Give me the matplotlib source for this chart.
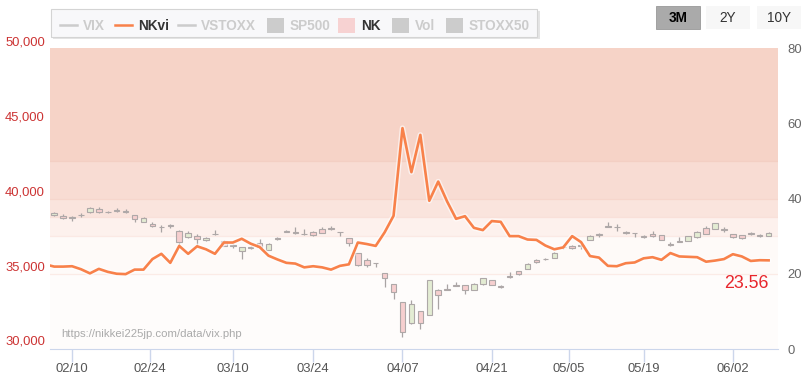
import numpy as np
import pandas as pd
import matplotlib
matplotlib.use("Agg")
import matplotlib.pyplot as plt
import matplotlib.transforms as mtransforms
import matplotlib.patheffects as pe
from matplotlib.patches import Rectangle

# 1) Data: Japanese trading days Feb 5 - Jun 6 2025
dates = [
    "2025-02-05", "2025-02-06", "2025-02-07", "2025-02-10", "2025-02-12", "2025-02-13", "2025-02-14",
    "2025-02-17", "2025-02-18", "2025-02-19", "2025-02-20", "2025-02-21", "2025-02-25", "2025-02-26",
    "2025-02-27", "2025-02-28", "2025-03-03", "2025-03-04", "2025-03-05", "2025-03-06", "2025-03-07",
    "2025-03-10", "2025-03-11", "2025-03-12", "2025-03-13", "2025-03-14", "2025-03-17", "2025-03-18",
    "2025-03-19", "2025-03-21", "2025-03-24", "2025-03-25", "2025-03-26", "2025-03-27", "2025-03-28",
    "2025-03-31", "2025-04-01", "2025-04-02", "2025-04-03", "2025-04-04", "2025-04-07", "2025-04-08",
    "2025-04-09", "2025-04-10", "2025-04-11", "2025-04-14", "2025-04-15", "2025-04-16", "2025-04-17",
    "2025-04-18", "2025-04-21", "2025-04-22", "2025-04-23", "2025-04-24", "2025-04-25", "2025-04-28",
    "2025-04-30", "2025-05-01", "2025-05-02", "2025-05-07", "2025-05-08", "2025-05-09", "2025-05-12",
    "2025-05-13", "2025-05-14", "2025-05-15", "2025-05-16", "2025-05-19", "2025-05-20", "2025-05-21",
    "2025-05-22", "2025-05-23", "2025-05-26", "2025-05-27", "2025-05-28", "2025-05-29", "2025-05-30",
    "2025-06-02", "2025-06-03", "2025-06-04", "2025-06-05", "2025-06-06",
]

nkvi = [
    22.5, 21.9, 21.9, 22.0, 21.2, 20.1, 21.3, 20.5, 20.0, 19.9, 21.1, 21.1, 23.9, 25.3,
    22.9, 27.4, 25.3, 27.3, 26.5, 25.3, 28.3, 28.3, 29.3, 28.0, 27.1, 24.8, 23.8, 22.9,
    22.7, 21.7, 22.0, 21.7, 21.1, 22.1, 22.5, 28.3, 27.9, 27.4, 31.0, 35.4, 58.7, 47.0,
    56.9, 39.4, 44.5, 39.2, 34.6, 35.3, 32.2, 31.6, 34.0, 33.8, 30.0, 30.0, 29.1, 29.0,
    27.5, 26.5, 27.0, 30.0, 28.4, 24.7, 24.3, 22.1, 22.0, 22.8, 23.0, 24.1, 24.4, 23.7,
    25.5, 24.6, 24.5, 24.4, 23.2, 23.5, 23.9, 25.2, 24.6, 23.4, 23.6, 23.56,
]

nk_open = [
    38800, 38990, 38900, 38750, 38950, 39170, 39390, 39150, 39230, 39200, 38950, 38500, 38390, 38160,
    38300, 37860, 37480, 37575, 37300, 37680, 37197, 36900, 36578, 36780, 37090, 36645, 37380, 37830,
    37760, 37690, 37841, 38020, 38080, 37830, 37396, 36399, 35960, 35740, 35070, 34319, 33165, 31708,
    32525, 32306, 33967, 33960, 34240, 34253, 33967, 34319, 34585, 34140, 34800, 35203, 35362, 35980,
    36000, 36094, 36800, 36911, 36900, 37290, 37620, 38160, 38150, 37800, 37740, 37520, 37689, 37622,
    36950, 37150, 37243, 37462, 38087, 38020, 37990, 37689, 37622, 37720, 37600, 37575,
]
nk_high = [
    38900, 39140, 39050, 38900, 39100, 39530, 39500, 39250, 39420, 39350, 38960, 38810, 38500, 38280,
    38380, 37950, 37860, 37690, 37520, 37960, 37290, 37020, 36810, 36910, 37356, 37100, 37460, 37980,
    38130, 38000, 37900, 38130, 38240, 37840, 37420, 36450, 36070, 35780, 35070, 34319, 33165, 33303,
    32550, 34639, 33990, 34360, 34470, 34280, 34420, 34740, 34600, 34300, 35130, 35210, 35720, 36000,
    36100, 36460, 36960, 36950, 36950, 37600, 37750, 38500, 38330, 37900, 37760, 37620, 37900, 37640,
    37130, 37460, 37550, 37900, 38240, 38440, 38130, 37700, 37640, 37840, 37720, 37800,
]
nk_low = [
    38600, 38900, 38700, 38550, 38850, 39120, 39100, 39100, 39180, 39080, 38500, 38480, 38130, 37840,
    38100, 36910, 37420, 36911, 37240, 37640, 36880, 36760, 36027, 36690, 36740, 36620, 37300, 37800,
    37700, 37650, 37580, 37740, 37950, 37580, 36911, 35520, 35500, 35470, 34140, 33370, 30792, 31700,
    31309, 32300, 32705, 33930, 34210, 33700, 33950, 34300, 34250, 34100, 34780, 34920, 35340, 35780,
    35950, 36080, 36690, 36700, 36690, 37270, 37460, 38130, 37900, 37690, 37500, 37400, 37500, 37290,
    36910, 37130, 37230, 37450, 37680, 38000, 37840, 37400, 37380, 37620, 37510, 37560,
]
nk_close = [
    38831, 39066, 38787, 38801, 38963, 39461, 39149, 39174, 39270, 39164, 38678, 38776, 38237, 38142,
    38256, 37155, 37785, 37331, 37418, 37705, 36887, 36930, 36798, 36819, 36790, 37053, 37396, 37845,
    37751, 37677, 37622, 37780, 38027, 37799, 37120, 35617, 35624, 35725, 34736, 33780, 31136, 33012,
    31714, 34609, 33585, 33982, 34267, 33920, 34377, 34730, 34280, 34220, 34868, 35039, 35705, 35840,
    36045, 36452, 36830, 36780, 36928, 37560, 37644, 38183, 38128, 37755, 37753, 37498, 37529, 37299,
    36985, 37160, 37531, 37795, 37722, 38432, 37965, 37470, 37446, 37747, 37554, 37741,
]

tick_dates = ["2025-02-10", "2025-02-24", "2025-03-10", "2025-03-24", "2025-04-07",
              "2025-04-21", "2025-05-05", "2025-05-19", "2025-06-02"]
tick_labels = ["02/10", "02/24", "03/10", "03/24", "04/07", "04/21", "05/05", "05/19", "06/02"]

left_ticks = [30000, 35000, 40000, 45000, 50000]
right_ticks = [0, 20, 40, 60, 80]

# VIX-style zones on the right axis
band_edges = [0, 20, 30, 35, 40, 50, 80]
band_colors = ["#fefcfb", "#fefaf8", "#fdf1ed", "#fae4dd", "#f8dcd3", "#f6d3c7"]

legend_items = [("VIX", "line", "#cccccc", False), ("NKvi", "line", "#f8814a", True),
                ("VSTOXX", "line", "#cccccc", False), ("SP500", "box", "#cccccc", False),
                ("NK", "box", "#f7d2d2", True), ("Vol", "box", "#cccccc", False),
                ("STOXX50", "box", "#cccccc", False)]

# 2) Ordinal x axis (trading-day index, index 0 = 02/10)
d = pd.to_datetime(dates).values.astype("datetime64[D]").astype(float)
x = np.arange(len(dates)) - 3
tick_x = np.interp(pd.to_datetime(tick_dates).values.astype("datetime64[D]").astype(float), d, x)

plt.rcParams["font.family"] = ["Liberation Sans", "DejaVu Sans"]
W, H = 803, 377
fig = plt.figure(figsize=(W / 100, H / 100), dpi=100)
ax = fig.add_axes([50 / W, (H - 349) / H, 728 / W, 301 / H])
ax2 = ax.twinx()

ax.set_xlim(-2.47, 79.05)
ax.set_ylim(30000, 50133)
ax2.set_ylim(0, 80)

# 3) Background zones
ytrans = mtransforms.blended_transform_factory(ax.transAxes, ax2.transData)
for lo, hi, c in zip(band_edges[:-1], band_edges[1:], band_colors):
    ax.add_patch(Rectangle((0, lo), 1, hi - lo, transform=ytrans, facecolor=c,
                           edgecolor="none", zorder=0))
for e, c in zip(band_edges[1:-1], ["#fbebe6", "#fbe9e4", "#f9e0d9", "#f6d6cc", "#f3cfc3"]):
    ax.plot([0, 1], [e, e], transform=ytrans, color=c, lw=0.9, zorder=0.5)

# 4) Candles
o, h, l, c = map(np.array, (nk_open, nk_high, nk_low, nk_close))
up = c >= o
body_lo = np.minimum(o, c)
body_h = np.maximum(np.abs(c - o), 45)
ax.vlines(x, l, h, color="#a9a4a4", lw=0.9, zorder=2)
ax.bar(x, body_h, bottom=body_lo, width=0.62,
       color=np.where(up, "#e3ecd3", "#f6cfcf"), edgecolor="#aea8a8", linewidth=0.8, zorder=3)

# 5) NKvi line
ax2.plot(x, nkvi, color="#f8814a", lw=1.9, zorder=5, solid_joinstyle="round",
         path_effects=[pe.Stroke(linewidth=4.0, foreground="white", alpha=0.6, joinstyle="round"),
                       pe.Normal()])
ax2.patch.set_visible(False)

# 6) Axes styling
for a in (ax, ax2):
    for s in a.spines.values():
        s.set_visible(False)
ax.spines["bottom"].set_visible(True)
ax.spines["bottom"].set_color("#ccd6eb")
ax.set_xticks(tick_x)
ax.set_xticklabels(tick_labels)
ax.tick_params(axis="x", length=9, color="#ccd6eb", width=1, pad=1, labelsize=9.4, labelcolor="#555555")
ax.set_yticks([])
ax2.set_yticks(right_ticks)
ax2.tick_params(axis="y", length=0, pad=7, labelsize=9.4, labelcolor="#666666")

off = mtransforms.ScaledTranslation(0, 7 / 100, fig.dpi_scale_trans)
for v in left_ticks:
    ax.text(-0.007, v, f"{v:,}", transform=ax.get_yaxis_transform() + off,
            ha="right", va="center", fontsize=9.4, color="#cc3333")

ax.text(0.016, 0.05, "https://nikkei225jp.com/data/vix.php", transform=ax.transAxes,
        fontsize=8.2, color="#aaaaaa", va="center", zorder=6)
ax2.text(x[-1], 23.56 - 6.2, f"{nkvi[-1]:.2f}", fontsize=12.8, color="#e8262c",
         ha="right", va="center", zorder=6)


# 7) Legend and range buttons (pixel coordinates)
def px(xp, yp):
    return xp / W, 1 - yp / H


def rect(x0, y0, w, hgt, **kw):
    fig.add_artist(Rectangle(px(x0, y0 + hgt), w / W, hgt / H, transform=fig.transFigure, **kw))


rect(53, 11, 487, 28, facecolor="#e4e4e4", edgecolor="none")
rect(51, 9, 486, 28, facecolor="#f8f8fa", edgecolor="#d4d4d4", lw=0.8)
legend_x = [60, 115, 178, 267, 338, 392, 446]
for (name, kind, col, on), lx in zip(legend_items, legend_x):
    if kind == "line":
        fig.add_artist(plt.Line2D([lx / W, (lx + 17) / W], [1 - 25 / H] * 2, color=col, lw=1.8,
                                  transform=fig.transFigure))
    else:
        rect(lx, 18, 17, 15, facecolor=col, edgecolor="none")
    tx, ty = px(lx + 23, 25.5)
    fig.text(tx, ty, name, fontsize=9.8, fontweight="bold", va="center",
             color="#333333" if on else "#cccccc")

for label, bx, sel in [("3M", 656, True), ("2Y", 706, False), ("10Y", 757, False)]:
    rect(bx, 6, 44, 23, facecolor="#aaaaaa" if sel else "#f7f7f7",
         edgecolor="#999999" if sel else "none", lw=0.6)
    tx, ty = px(bx + 22, 17.5)
    fig.text(tx, ty, label, fontsize=9.8, fontweight="bold" if sel else "normal",
             ha="center", va="center", color="#000000" if sel else "#333333")

fig.savefig("out.png", dpi=100, facecolor="white")
